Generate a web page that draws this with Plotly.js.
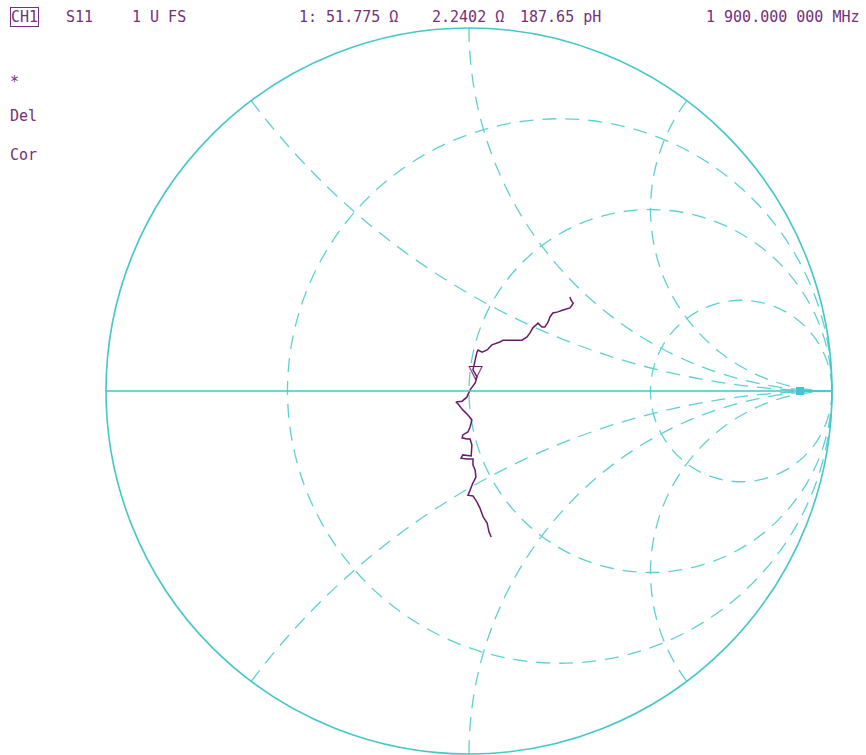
<!DOCTYPE html>
<html><head><meta charset="utf-8">
<script src="https://cdn.plot.ly/plotly-3.0.1.min.js"></script>
<style>html,body{margin:0;padding:0;background:#fff}</style>
</head><body><div id="chart" style="width:866px;height:755px"></div>
<script>
// Reflection coefficient (Gamma) samples of the S11 trace
const gammaRe = [0.061,0.055,0.050,0.039,0.030,0.022,0.011,-0.003,0.003,0.011,0.019,0.017,0.011,0.011,-0.006,-0.022,-0.017,0.006,0.008,0.003,-0.006,-0.019,-0.017,-0.003,0.003,0.008,-0.003,-0.017,-0.030,-0.036,-0.019,-0.006,0.003,0.017,0.022,0.011,0.017,0.022,0.025,0.036,0.050,0.063,0.085,0.094,0.121,0.146,0.160,0.168,0.176,0.185,0.190,0.201,0.209,0.218,0.223,0.231,0.245,0.259,0.278,0.284,0.287,0.281,0.278];
const gammaIm = [-0.402,-0.388,-0.364,-0.347,-0.322,-0.306,-0.289,-0.287,-0.273,-0.253,-0.237,-0.218,-0.204,-0.187,-0.187,-0.185,-0.176,-0.179,-0.149,-0.132,-0.132,-0.129,-0.121,-0.113,-0.099,-0.080,-0.066,-0.052,-0.036,-0.030,-0.028,-0.017,0.003,0.022,0.039,0.058,0.085,0.107,0.113,0.107,0.113,0.127,0.135,0.140,0.140,0.140,0.149,0.160,0.174,0.182,0.187,0.176,0.176,0.190,0.204,0.215,0.218,0.223,0.229,0.237,0.242,0.251,0.259];
const Z0 = 50;
const marker1R = 51.775;   // ohm
const marker1X = 2.2402;   // ohm
const resistanceGrid = [1/3, 1, 3];
const reactanceGrid = [-2, -1, -0.5, 0.5, 1, 2];
const refMarkerR = [21.7];
const refMarkerX = [0];
const headerTexts = ['S11', '1 U FS', '1: 51.775 Ω', '2.2402 Ω', '187.65 pH'];
const sideTexts = ['*', 'Del', 'Cor'];

function toZ(a, b) {
  const d = (1 - a) * (1 - a) + b * b;
  return [(1 - a * a - b * b) / d, 2 * b / d];
}
const zr = [], zi = [];
for (let i = 0; i < gammaRe.length; i++) {
  const z = toZ(gammaRe[i], gammaIm[i]);
  zr.push(z[0]); zi.push(z[1]);
}

const cyan = '#45c6c8';
const gridCyan = '#5fd0d2';
const purple = '#681b6a';
const txt = '#74307a';

const traces = [
  {type: 'scattersmith', real: zr, imag: zi, mode: 'lines',
   line: {color: purple, width: 1.5}, hoverinfo: 'skip', showlegend: false},
  {type: 'scattersmith', real: [marker1R / Z0], imag: [marker1X / Z0], mode: 'text',
   text: ['▽'], textposition: 'top center',
   textfont: {family: 'DejaVu Sans', size: 19, color: purple}, showlegend: false},
  {type: 'scattersmith', real: refMarkerR, imag: refMarkerX, mode: 'markers',
   marker: {symbol: 'square', size: 8, color: '#3cc6d6'}, showlegend: false}
];

const hx = [64, 130, 297, 430, 518];
const ann = [];
const font = {family: 'DejaVu Sans Mono', size: 15, color: txt};
ann.push({text: 'CH1', xref: 'paper', yref: 'paper', x: 10/866, y: 1 - 17/755,
  xanchor: 'left', yanchor: 'middle', showarrow: false, font: font,
  bordercolor: txt, borderwidth: 1, borderpad: 0});
headerTexts.forEach((t, i) => ann.push({text: t, xref: 'paper', yref: 'paper',
  x: hx[i]/866, y: 1 - 17/755, xanchor: 'left', yanchor: 'middle', showarrow: false, font: font}));
ann.push({text: '1 900.000 000 MHz', xref: 'paper', yref: 'paper', x: 862/866, y: 1 - 17/755,
  xanchor: 'right', yanchor: 'middle', showarrow: false, font: font});
const sy = [82, 116, 155];
sideTexts.forEach((t, i) => ann.push({text: t, xref: 'paper', yref: 'paper',
  x: 8/866, y: 1 - sy[i]/755, xanchor: 'left', yanchor: 'middle', showarrow: false, font: font}));

const axCommon = {showticklabels: false, ticks: '', showgrid: true, gridcolor: gridCyan,
  griddash: '14px,9px', gridwidth: 1.3, showline: true, linecolor: cyan, linewidth: 1.6};

const layout = {
  width: 866, height: 755, margin: {l: 0, r: 0, t: 0, b: 0},
  paper_bgcolor: '#ffffff', showlegend: false,
  smith: {
    domain: {x: [106/866, 832/866], y: [1/755, 727/755]},
    bgcolor: 'rgba(0,0,0,0)',
    realaxis: Object.assign({tickvals: resistanceGrid}, axCommon),
    imaginaryaxis: Object.assign({tickvals: reactanceGrid}, axCommon)
  },
  annotations: ann
};
Plotly.newPlot('chart', traces, layout, {displayModeBar: false, staticPlot: true});
</script></body></html>
